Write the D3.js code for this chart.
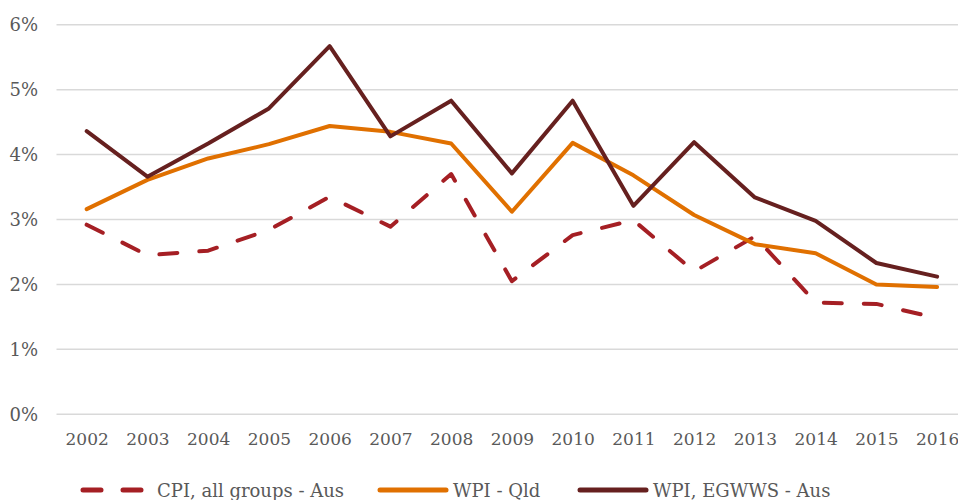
<!DOCTYPE html>
<html>
<head>
<meta charset="utf-8">
<script src="https://cdn.jsdelivr.net/npm/d3@7"></script>
<style>
  body { margin: 0; background: #fff; }
  svg { display: block; }
  text { font-family: "DejaVu Serif", Georgia, serif; fill: #595959; }
</style>
</head>
<body>
<svg width="958" height="500"></svg>
<script>
// data
const years = ["2002","2003","2004","2005","2006","2007","2008","2009","2010","2011","2012","2013","2014","2015","2016"];
const cpiAus = [2.92, 2.45, 2.52, 2.84, 3.35, 2.89, 3.70, 2.05, 2.76, 2.99, 2.20, 2.74, 1.72, 1.70, 1.48];
const wpiQld = [3.16, 3.61, 3.94, 4.16, 4.44, 4.35, 4.17, 3.12, 4.18, 3.68, 3.07, 2.62, 2.48, 2.00, 1.96];
const wpiEgwws = [4.36, 3.66, 4.17, 4.71, 5.67, 4.28, 4.83, 3.71, 4.83, 3.21, 4.19, 3.34, 2.98, 2.33, 2.12];
const yTicks = [0, 1, 2, 3, 4, 5, 6];

const series = [
  { name: "CPI, all groups - Aus", values: cpiAus, color: "#A51F24", dash: "18,22" },
  { name: "WPI - Qld", values: wpiQld, color: "#E07000", dash: null },
  { name: "WPI, EGWWS - Aus", values: wpiEgwws, color: "#66201F", dash: null }
];

let svg = d3.select("svg");

let x = d3.scalePoint()
  .domain(years)
  .range([56.3, 967.5])
  .padding(0.5);

let y = d3.scaleLinear()
  .domain([0, 6])
  .range([414.3, 24.7]);

// gridlines
svg.append("g")
  .selectAll("line")
  .data(yTicks)
  .enter()
  .append("line")
  .attr("x1", 56.5)
  .attr("x2", 958)
  .attr("y1", d => y(d))
  .attr("y2", d => y(d))
  .attr("stroke", "#D9D9D9")
  .attr("stroke-width", 1.5);

// y axis labels
let yAxis = svg.append("g")
  .attr("transform", "translate(38,0)")
  .call(d3.axisLeft(y).tickValues(yTicks).tickFormat(d => d + "%").tickSize(0).tickPadding(0));
yAxis.select(".domain").remove();
yAxis.selectAll("text")
  .style("font-size", "18px")
  .style("font-family", "\"DejaVu Serif\", serif")
  .attr("fill", "#595959");

// x axis labels
let xAxis = svg.append("g")
  .attr("transform", "translate(0,433)")
  .call(d3.axisBottom(x).tickSize(0).tickPadding(0));
xAxis.select(".domain").remove();
xAxis.selectAll("text")
  .style("font-size", "17px")
  .style("font-family", "\"DejaVu Serif\", serif")
  .attr("fill", "#595959");

// lines
let line = d3.line()
  .x((d, i) => x(years[i]))
  .y(d => y(d));

svg.append("g")
  .selectAll("path")
  .data(series)
  .enter()
  .append("path")
  .attr("d", d => line(d.values))
  .attr("fill", "none")
  .attr("stroke", d => d.color)
  .attr("stroke-width", 4)
  .attr("stroke-linecap", "round")
  .attr("stroke-linejoin", "round")
  .attr("stroke-dasharray", d => d.dash);

// legend
const legendX = [83, 380, 580];
let legend = svg.append("g")
  .selectAll("g")
  .data(series)
  .enter()
  .append("g")
  .attr("transform", (d, i) => `translate(${legendX[i]},490)`);

legend.append("line")
  .attr("x1", 0)
  .attr("x2", (d, i) => i === 0 ? 62 : 66)
  .attr("stroke", d => d.color)
  .attr("stroke-width", 5)
  .attr("stroke-linecap", "round")
  .attr("stroke-dasharray", d => d.dash ? "18,22" : null);

legend.append("text")
  .attr("x", (d, i) => i === 0 ? 74 : 73)
  .attr("y", 7)
  .style("font-size", "18px")
  .text(d => d.name);
</script>
</body>
</html>
